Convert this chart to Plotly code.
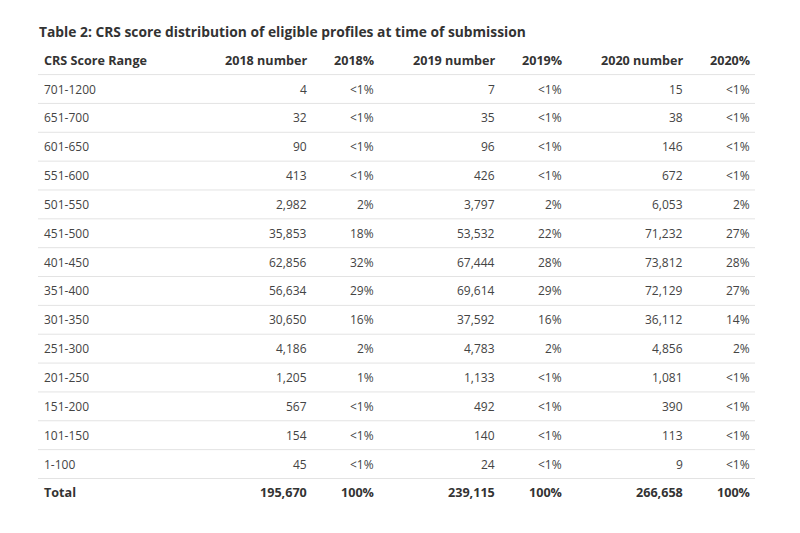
import plotly.graph_objects as go

title = "Table 2: CRS score distribution of eligible profiles at time of submission"
headers = ["CRS Score Range", "2018 number", "2018%", "2019 number", "2019%", "2020 number", "2020%"]
ranges = ["701-1200", "651-700", "601-650", "551-600", "501-550", "451-500", "401-450",
          "351-400", "301-350", "251-300", "201-250", "151-200", "101-150", "1-100", "Total"]
n2018 = ["4", "32", "90", "413", "2,982", "35,853", "62,856", "56,634", "30,650", "4,186",
         "1,205", "567", "154", "45", "195,670"]
p2018 = ["<1%", "<1%", "<1%", "<1%", "2%", "18%", "32%", "29%", "16%", "2%", "1%", "<1%",
         "<1%", "<1%", "100%"]
n2019 = ["7", "35", "96", "426", "3,797", "53,532", "67,444", "69,614", "37,592", "4,783",
         "1,133", "492", "140", "24", "239,115"]
p2019 = ["<1%", "<1%", "<1%", "<1%", "2%", "22%", "28%", "29%", "16%", "2%", "<1%", "<1%",
         "<1%", "<1%", "100%"]
n2020 = ["15", "38", "146", "672", "6,053", "71,232", "73,812", "72,129", "36,112", "4,856",
         "1,081", "390", "113", "9", "266,658"]
p2020 = ["<1%", "<1%", "<1%", "<1%", "2%", "27%", "28%", "27%", "14%", "2%", "<1%", "<1%",
         "<1%", "<1%", "100%"]

columns = [ranges, n2018, p2018, n2019, p2019, n2020, p2020]

# layout (pixel coordinates of the page)
col_x = [42, 309, 376, 497, 564, 685, 752]
col_anchor = ["left", "right", "right", "right", "right", "right", "right"]
header_y = 60
first_row_y = 89
row_h = 28.85
line_x0, line_x1 = 38, 755
FONT = "Open Sans"
HEAD_COLOR = "#333333"
BODY_COLOR = "#444444"
LINE_COLOR = "#e3e3e3"
OFF = 8  # page body margin

fig = go.Figure()

annotations = []
annotations.append(dict(x=37, y=31, text=title, xanchor="left", yanchor="middle",
                        showarrow=False,
                        font=dict(family=FONT, size=13.8, color=HEAD_COLOR, weight="bold")))
for j, h in enumerate(headers):
    annotations.append(dict(x=col_x[j], y=header_y, text=h, xanchor=col_anchor[j],
                            yanchor="middle", showarrow=False,
                            font=dict(family=FONT, size=12.6, color=HEAD_COLOR, weight="bold")))
nrows = len(ranges)
for i in range(nrows):
    y = first_row_y + i * row_h
    is_total = (i == nrows - 1)
    for j, col in enumerate(columns):
        annotations.append(dict(x=col_x[j], y=y, text=col[i], xanchor=col_anchor[j],
                                yanchor="middle", showarrow=False,
                                font=dict(family=FONT,
                                          size=12.6 if is_total else 12,
                                          weight="bold" if is_total else "normal",
                                          color=HEAD_COLOR if is_total else BODY_COLOR)))

shapes = []
for i in range(nrows):
    y = first_row_y + i * row_h - row_h / 2
    shapes.append(dict(type="line", x0=line_x0, x1=line_x1, y0=y, y1=y, xref="x", yref="y",
                       line=dict(color=LINE_COLOR, width=1)))

fig.update_layout(
    width=800, height=533,
    margin=dict(l=0, r=0, t=0, b=0),
    paper_bgcolor="white", plot_bgcolor="white",
    xaxis=dict(range=[OFF, 800 + OFF], visible=False, fixedrange=True),
    yaxis=dict(range=[533 + OFF, OFF], visible=False, fixedrange=True),
    annotations=annotations,
    shapes=shapes,
    showlegend=False,
)

fig.write_html("out.html")
